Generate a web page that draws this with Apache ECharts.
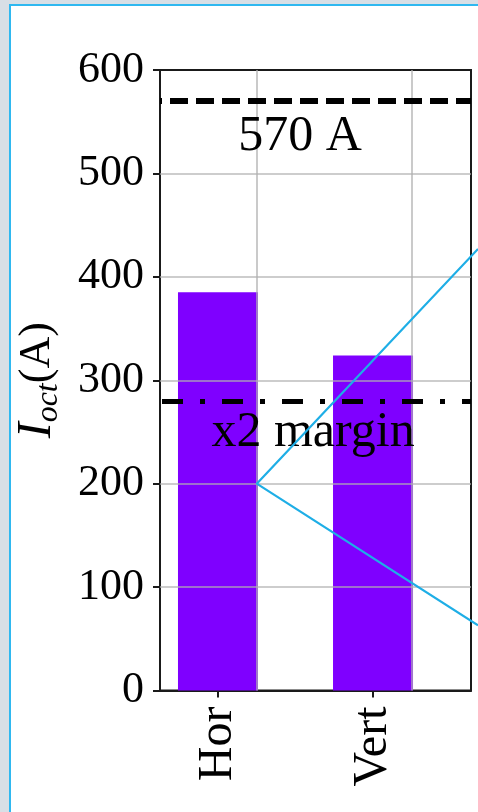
<!DOCTYPE html>
<html>
<head>
<meta charset="utf-8">
<script src="https://cdn.jsdelivr.net/npm/echarts@6/dist/echarts.min.js"></script>
<style>
  html, body { margin: 0; padding: 0; width: 478px; height: 812px; overflow: hidden; background: #d8dfe6; }
  #frame { position: absolute; left: 9px; top: 4px; width: 520px; height: 860px; background: #ffffff; border: 2px solid #2fb8f0; }
  #chart { position: absolute; left: 0; top: 0; width: 478px; height: 812px; }
</style>
</head>
<body>
<div id="frame"></div>
<div id="chart"></div>
<script>
// Octupole current per orientation
const categories = ['Hor', 'Vert'];
const categoryPos = [0, 1];
const currents = [385, 324];

// Reference levels
const limitLevel = 570;      // dashed line, "570 A"
const marginLevel = 280;     // dash-dot line, "x2 margin"

// Text notes placed in data space
const noteText = ['570 A', 'x2 margin'];
const noteX = [0.53, 0.613];
const noteY = [535, 249];

// Y ticks
const yTicks = [0, 100, 200, 300, 400, 500, 600];
// Vertical grid positions (at bar right edges)
const xGrid = [0.25, 1.25];

// Callout lines leaving the Hor bar edge at 200 A, running off the right edge
const calloutX = [1.677, 0.25, 1.677];
const calloutY = [427, 200, 63];

const FONT = 'Liberation Serif';
const X_MIN = -0.374, X_MAX = 1.632;
// same scale, widened to the page edge so the callouts are not cut at the frame
const X_MAX_WIDE = 1.677;

const chart = echarts.init(document.getElementById('chart'), null, { renderer: 'canvas' });

const barData = categoryPos.map((x, i) => [x, currents[i]]);
const noteData = noteText.map((t, i) => ({ value: [noteX[i], noteY[i]], label: { formatter: t } }));
const calloutData = calloutX.map((x, i) => [x, calloutY[i]]);

const gridLineStyle = { color: 'rgba(176,176,176,0.85)', width: 1.6, type: 'solid' };

chart.setOption({
  animation: false,
  backgroundColor: 'transparent',
  grid: [
    {
      left: 160, top: 70, right: 7, bottom: 121.5,
      show: true, borderColor: '#1a1a1a', borderWidth: 2, backgroundColor: 'transparent'
    },
    { left: 160, top: 70, right: 0, bottom: 121.5, show: false }
  ],
  xAxis: [
    {
      type: 'value',
      gridIndex: 0,
      min: X_MIN, max: X_MAX,
      splitLine: { show: false },
      axisLine: { show: true, onZero: false, lineStyle: { color: '#1a1a1a', width: 2 } },
      axisTick: { show: true, customValues: categoryPos, length: 7, lineStyle: { color: '#1a1a1a', width: 2 } },
      axisLabel: {
        customValues: categoryPos,
        rotate: 90,
        margin: 16,
        fontFamily: FONT, fontSize: 48, color: '#000',
        formatter: (v) => categories[Math.round(v)]
      }
    },
    { type: 'value', gridIndex: 1, min: X_MIN, max: X_MAX_WIDE, show: false }
  ],
  yAxis: [
    {
      type: 'value',
      gridIndex: 0,
      min: 0, max: 600, interval: 100,
      splitLine: { show: false },
      axisLine: { show: true, onZero: false, lineStyle: { color: '#1a1a1a', width: 2 } },
      axisTick: { show: true, length: 7, lineStyle: { color: '#1a1a1a', width: 2 } },
      axisLabel: { margin: 16, fontFamily: FONT, fontSize: 44, color: '#000' },
      name: '{i|I}{s|oct}{n|(A)}',
      nameLocation: 'middle',
      nameRotate: 90,
      nameGap: 95,
      nameTextStyle: {
        rich: {
          i: { fontFamily: FONT, fontStyle: 'italic', fontSize: 48, color: '#000', lineHeight: 56, verticalAlign: 'middle' },
          s: { fontFamily: FONT, fontStyle: 'italic', fontSize: 32, color: '#000', lineHeight: 56, verticalAlign: 'bottom' },
          n: { fontFamily: FONT, fontSize: 44, color: '#000', lineHeight: 56, verticalAlign: 'middle' }
        }
      }
    },
    { type: 'value', gridIndex: 1, min: 0, max: 600, show: false }
  ],
  series: [
    {
      name: 'current',
      type: 'bar',
      data: barData,
      barWidth: 80,
      itemStyle: { color: '#7f00ff' },
      z: 2
    },
    {
      // grid drawn above the bars
      name: 'grid',
      type: 'scatter',
      data: barData,
      symbolSize: 0,
      silent: true,
      z: 3,
      markLine: {
        silent: true,
        symbol: 'none',
        label: { show: false },
        lineStyle: gridLineStyle,
        data: yTicks.filter(v => v > 0 && v < 600).map(v => ({ yAxis: v }))
          .concat(xGrid.map(v => ({ xAxis: v })))
      }
    },
    {
      name: 'levels',
      type: 'scatter',
      data: [],
      symbolSize: 0,
      silent: true,
      z: 4,
      markLine: {
        silent: true,
        symbol: 'none',
        label: { show: false },
        data: [
          { yAxis: limitLevel, lineStyle: { color: '#000', width: 6, type: [18, 8], dashOffset: 16, cap: 'butt' } },
          { yAxis: marginLevel, lineStyle: { color: '#000', width: 5, type: [21, 17, 5, 17], dashOffset: 58, cap: 'butt' } }
        ]
      }
    },
    {
      name: 'notes',
      type: 'scatter',
      data: noteData,
      symbolSize: 0,
      silent: true,
      z: 5,
      itemStyle: { opacity: 1 },
      label: {
        show: true, position: 'inside', opacity: 1,
        fontFamily: FONT, fontSize: 50, color: '#000',
        align: 'center', verticalAlign: 'middle'
      }
    },
    {
      name: 'callout',
      type: 'line',
      xAxisIndex: 1,
      yAxisIndex: 1,
      data: calloutData,
      clip: false,
      symbol: 'none',
      silent: true,
      z: 6,
      lineStyle: { color: '#1eaee6', width: 2.2 }
    }
  ]
});
</script>
</body>
</html>
